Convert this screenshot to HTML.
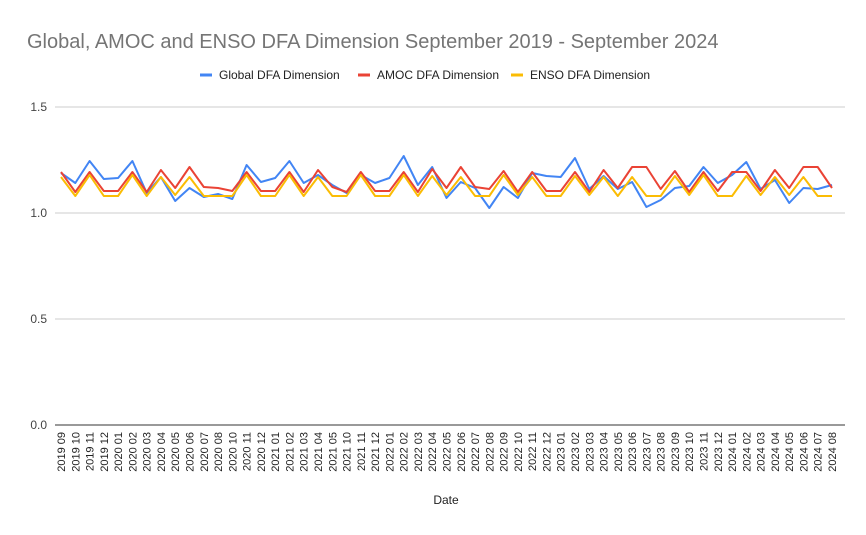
<!DOCTYPE html>
<html><head><style>body{margin:0;background:#fff}svg{display:block}</style></head><body>
<svg width="866" height="535" xmlns="http://www.w3.org/2000/svg" font-family="Liberation Sans, Arial, sans-serif">
<rect width="866" height="535" fill="#fff"/>
<text x="27" y="48" font-size="20" fill="#757575">Global, AMOC and ENSO DFA Dimension September 2019 - September 2024</text>
<g font-size="12" fill="#222">
<line x1="200" y1="75" x2="212" y2="75" stroke="#4285f4" stroke-width="3"/><text x="219" y="79">Global DFA Dimension</text>
<line x1="358" y1="75" x2="370" y2="75" stroke="#ea4335" stroke-width="3"/><text x="377" y="79">AMOC DFA Dimension</text>
<line x1="511" y1="75" x2="523" y2="75" stroke="#fbbc04" stroke-width="3"/><text x="530" y="79">ENSO DFA Dimension</text>
</g>
<g stroke="#ccc" stroke-width="1">
<line x1="55" y1="107" x2="845" y2="107"/><line x1="55" y1="213" x2="845" y2="213"/><line x1="55" y1="319" x2="845" y2="319"/>
</g>
<line x1="55" y1="425" x2="845" y2="425" stroke="#333" stroke-width="1"/>
<g font-size="12" fill="#444" text-anchor="end">
<text x="47" y="111">1.5</text><text x="47" y="217">1.0</text><text x="47" y="323">0.5</text><text x="47" y="429">0.0</text>
</g>
<g id="lines" fill="none" stroke-width="2" stroke-linejoin="round"></g>
<g id="xl" font-size="11" fill="#222"></g>
<text x="446" y="504" font-size="12" fill="#222" text-anchor="middle">Date</text>
<script>
var b=[173,183,161,179,178,161,193,177,201,188,197,194,199,165,182,178,161,183,175,185,193,175,183,178,156,185,167,198,182,188,208,187,198,173,176,177,158,189,176,189,182,207,200,188,186,167,183,175,162,189,180,203,188,189,185];
var r=[172,192,172,191,191,172,192,170,188,167,187,188,191,172,191,191,172,192,170,187,192,172,191,191,172,192,169,188,167,187,189,171,192,172,191,191,172,192,170,188,167,167,189,171,192,172,191,172,172,191,170,188,167,167,188];
var y=[177,196,175,196,196,175,196,177,195,177,196,196,196,175,196,196,175,196,177,196,196,175,196,196,175,196,176,195,177,196,196,175,195,177,196,196,176,195,177,196,177,196,196,176,195,175,196,196,176,195,177,195,177,196,196];
var labs=[];
function add(yr,a,bm){for(var m=a;m<=bm;m++)labs.push(yr+" "+(m<10?"0":"")+m);}
add(2019,9,12);add(2020,1,8);add(2020,10,12);add(2021,1,5);add(2021,10,12);add(2022,1,12);add(2023,1,12);add(2024,1,8);
var X=function(i){return 61+i*(771/54);};
var ns="http://www.w3.org/2000/svg",g=document.getElementById("lines");
[[b,"#4285f4"],[r,"#ea4335"],[y,"#fbbc04"]].forEach(function(s){
var p=document.createElementNS(ns,"polyline");p.setAttribute("points",s[0].map(function(v,i){return X(i).toFixed(1)+","+v}).join(" "));p.setAttribute("stroke",s[1]);g.appendChild(p);});
var xl=document.getElementById("xl");
labs.forEach(function(l,i){var t=document.createElementNS(ns,"text");var x=X(i)+4;t.setAttribute("transform","translate("+x.toFixed(1)+",432) rotate(-90)");t.setAttribute("text-anchor","end");t.textContent=l;xl.appendChild(t);});
</script>
</svg>
</body></html>
